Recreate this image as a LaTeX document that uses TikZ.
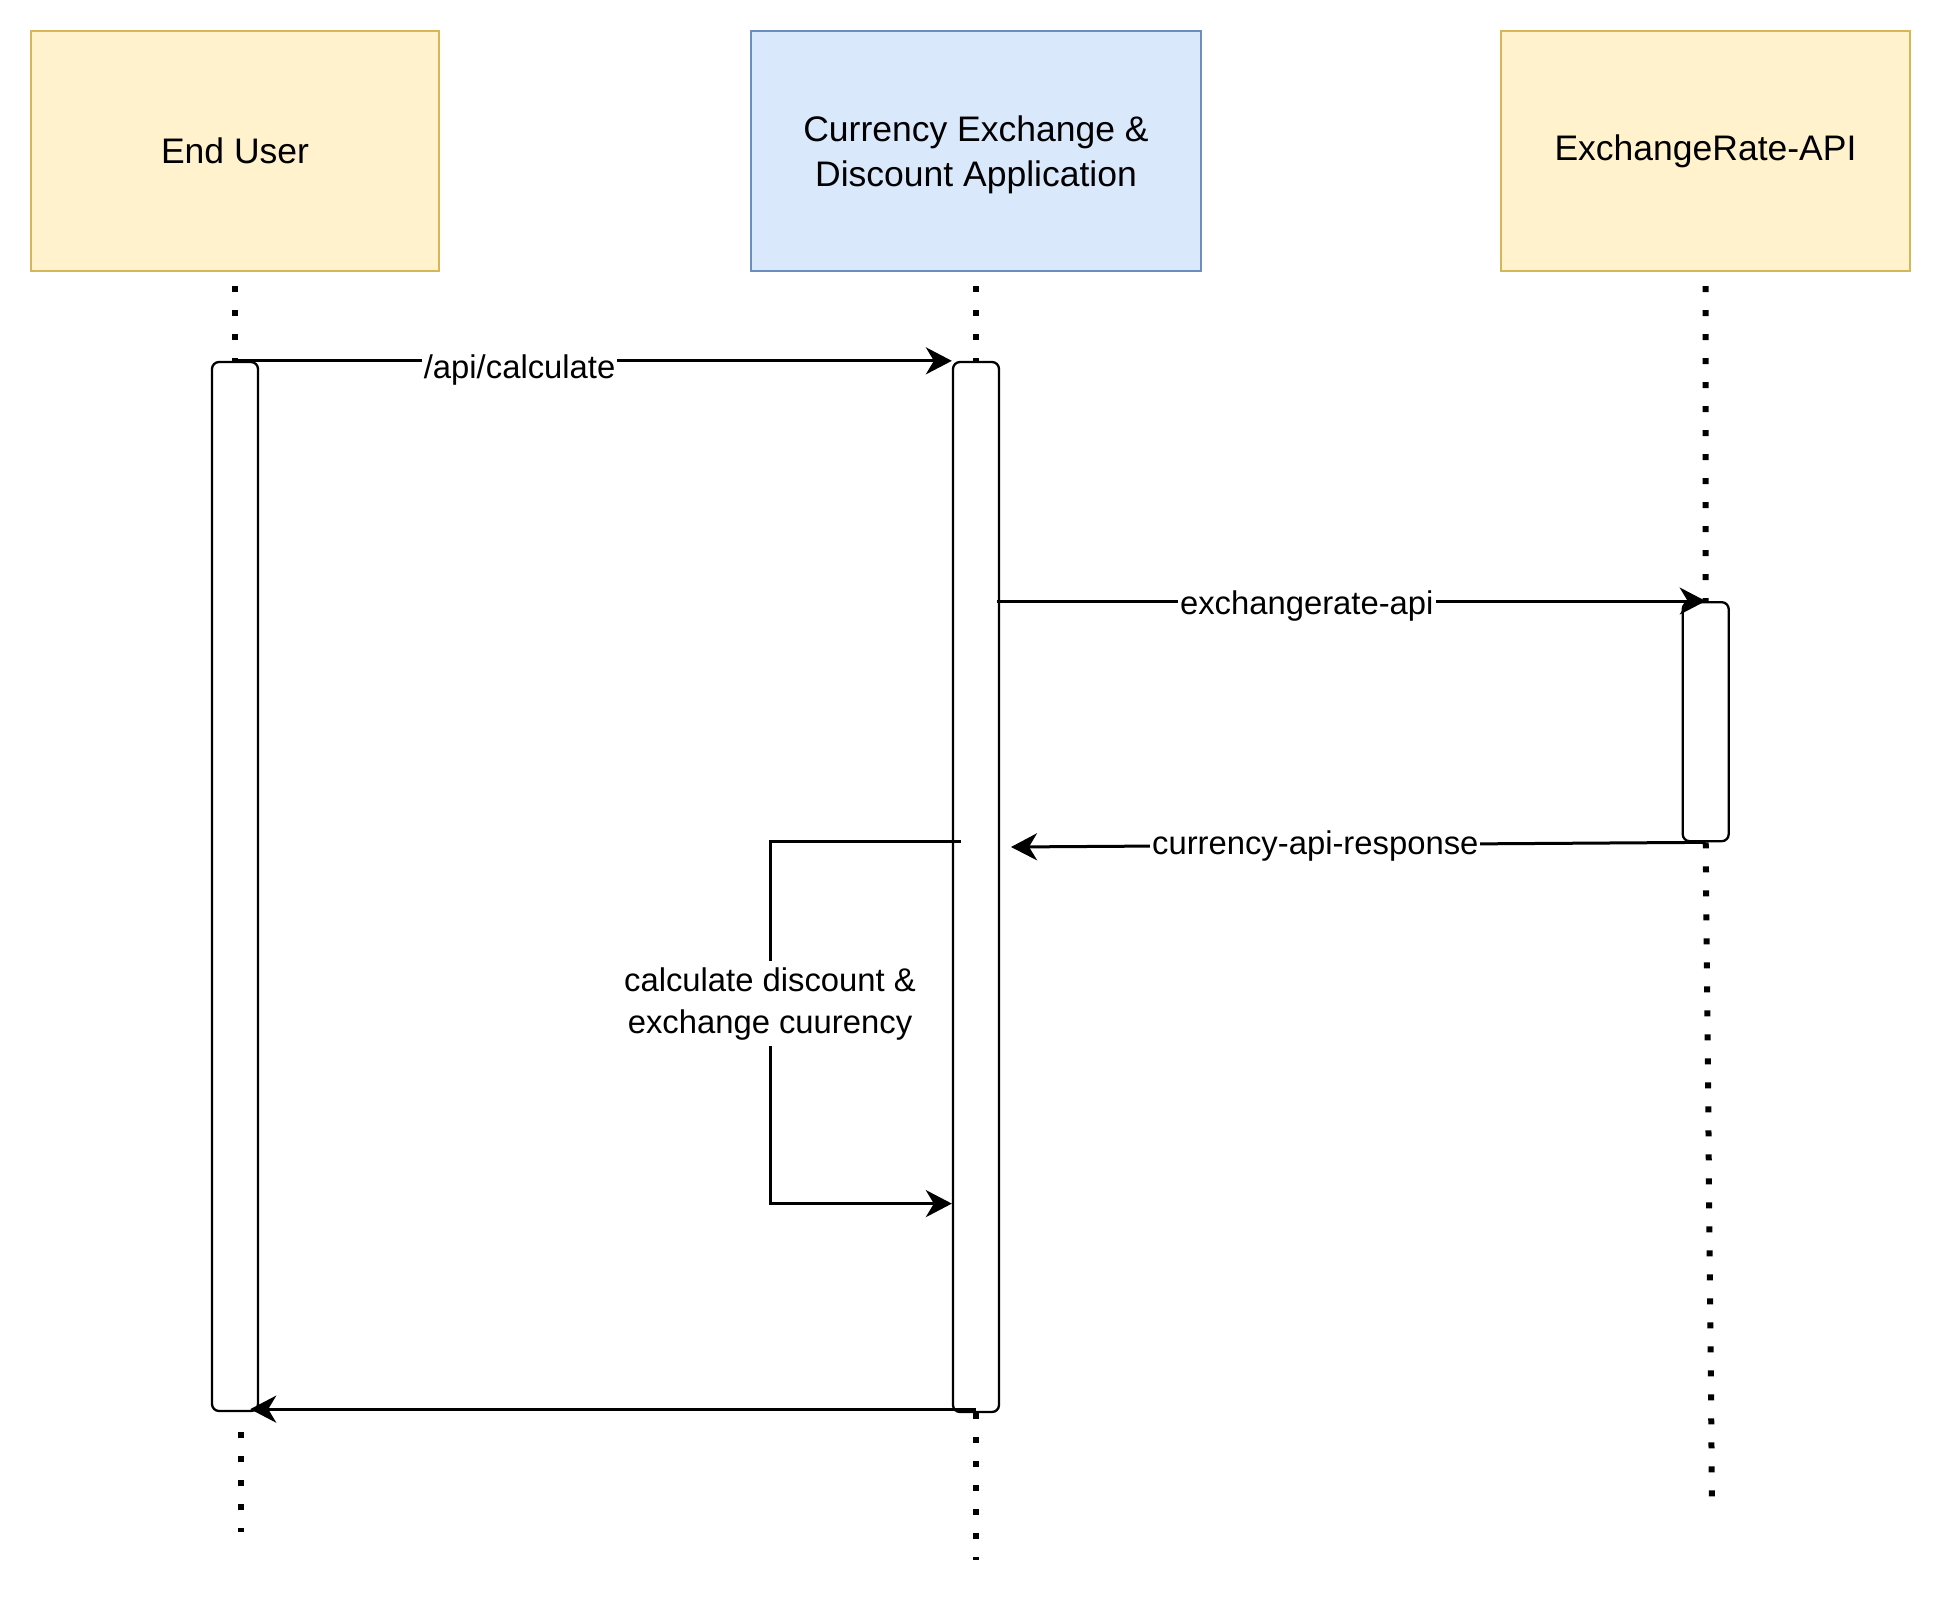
\documentclass[tikz,border=0pt]{standalone}
\usepackage{fontspec}
\setmainfont{Liberation Sans}
\usetikzlibrary{arrows.meta}
\definecolor{ufill}{HTML}{FFF2CC}
\definecolor{ustroke}{HTML}{D6B656}
\definecolor{afill}{HTML}{DAE8FC}
\definecolor{astroke}{HTML}{6C8EBF}
\tikzset{
  actor/.style={draw, line width=1.2pt, minimum height=120pt, inner sep=0pt, align=center,
    font=\fontsize{17.75}{22.5}\selectfont},
  actbar/.style={draw, fill=white, line width=1.15pt, rounded corners=3.5pt, minimum width=23pt, inner sep=0pt},
  life/.style={line width=3pt, dash pattern=on 3pt off 9pt},
  msg/.style={line width=1.5pt, -{Stealth[length=13pt, width=13.5pt, inset=4pt]}},
  lbl/.style={fill=white, inner sep=1pt, text=black, font=\fontsize{16.4}{21}\selectfont},
}
\begin{document}
\begin{tikzpicture}[x={(0.5pt,0)}, y={(0,-0.5pt)}]
\useasboundingbox[fill=white] (0,0) rectangle (1941,1599);
% actors
\node[actor, fill=ufill, draw=ustroke, minimum width=204pt] (user) at (235,151) {End User};
\node[actor, fill=afill, draw=astroke, minimum width=225pt] (app) at (976,151) {\rule{0pt}{16.3pt}Currency Exchange \&\\Discount Application};
\node[actor, fill=ufill, draw=ustroke, minimum width=204.5pt] (ext) at (1705.5,151) {ExchangeRate-API};
% activation bar positions
\coordinate (ubarc) at (235,886.5);
\coordinate (abarc) at (976,887);
\coordinate (rbarc) at (1705.7,721.7);
% lifelines (behind bars)
\coordinate (uend) at (240.6,1532);
\coordinate (aend) at (976,1560);
\coordinate (rend) at (1712,1502);
\draw[life] ([yshift=-7pt]user.south) -- (235,362);
\draw[life] ([yshift=-7pt]app.south) -- (976,362);
\draw[life] ([yshift=-7pt]ext.south) -- (1705.7,602);
% bars
\node[actbar, minimum height=524.5pt] (ubar) at (ubarc) {};
\node[actbar, minimum height=525pt] (abar) at (abarc) {};
\node[actbar, minimum height=119.5pt] (rbar) at (rbarc) {};
\draw[life] ([xshift=2.8pt,yshift=-10pt]ubar.south) -- (uend);
\draw[life] (abar.south) -- (aend);
\draw[life] (rbar.south) -- (rend);
% messages
\draw[msg] (ubar.north) -- (abar.north west) node[lbl, pos=0.397, yshift=-4.8pt] {/api/calculate};
\draw[msg] ([xshift=-1.5pt]abar.east |- rbar.north) -- (rbar.north) node[lbl, pos=0.437, yshift=-2.6pt] {exchangerate-api};
\coordinate (crtip) at (1011,847);
\draw[msg] (rbar.south) -- (crtip) node[lbl, pos=0.562, yshift=-0.6pt] {currency-api-response};
\coordinate (lpstart) at (961,841);
\coordinate (lptop) at (770,841);
\coordinate (lpbot) at (770,1203.6);
\draw[msg] (lpstart) -- (lptop) -- (lpbot) node[lbl, pos=0.44, yshift=-1.5pt, align=center, inner sep=3pt] {calculate discount \&\\exchange cuurency} -- (abar.west |- lpbot);
\draw[msg] ([yshift=2pt]abar.south) -- ([xshift=7.6pt,yshift=1.5pt]ubar.south);
\end{tikzpicture}
\end{document}
